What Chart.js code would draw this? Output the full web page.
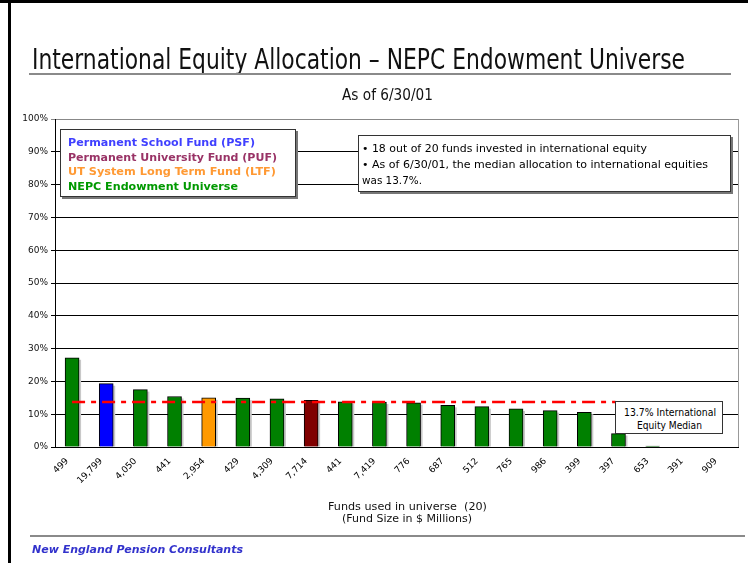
<!DOCTYPE html>
<html><head><meta charset="utf-8">
<script src="https://cdn.jsdelivr.net/npm/chart.js@4.4.1/dist/chart.umd.min.js"></script>
<style>
body{margin:0;width:748px;height:563px;position:relative;overflow:hidden;background:#fff;font-family:"DejaVu Sans",sans-serif;}
canvas{position:absolute;left:0;top:0;}
.t{position:absolute;white-space:nowrap;line-height:1;transform-origin:left top;}
.box{position:absolute;box-sizing:border-box;background:#fff;border:1px solid #333;box-shadow:2px 2px 0 #777;}
.rule{position:absolute;background:#8a8a8a;}
</style></head>
<body>
<div style="position:absolute;left:0;top:0;width:748px;height:3px;background:#000"></div>
<div style="position:absolute;left:8px;top:0;width:3px;height:563px;background:#000"></div>
<canvas id="c" width="748" height="563"></canvas>

<div class="t" data-x="32" data-b="69.3" data-fs="29" data-w="653" style="color:#111">International Equity Allocation – NEPC Endowment Universe</div>
<div class="rule" style="left:29px;top:73px;width:702px;height:2px"></div>
<div class="t" data-x="342" data-b="100.5" data-fs="16" data-w="91" style="color:#111">As of 6/30/01</div>

<div class="box" style="left:60px;top:129px;width:236px;height:68px"></div>
<div class="t" data-x="68" data-b="146.5" data-fs="11" data-w="187" style="font-weight:bold;color:#4040ff">Permanent School Fund (PSF)</div>
<div class="t" data-x="68" data-b="161" data-fs="11" data-w="209" style="font-weight:bold;color:#993366">Permanent University Fund (PUF)</div>
<div class="t" data-x="68" data-b="175.5" data-fs="11" data-w="208" style="font-weight:bold;color:#ff9933">UT System Long Term Fund (LTF)</div>
<div class="t" data-x="68" data-b="190" data-fs="11" data-w="170" style="font-weight:bold;color:#009900">NEPC Endowment Universe</div>

<div class="box" style="left:358px;top:135px;width:373px;height:57px"></div>
<div class="t" data-x="362" data-b="152.3" data-fs="11" data-w="285">• 18 out of 20 funds invested in international equity</div>
<div class="t" data-x="362" data-b="168" data-fs="11" data-w="346">• As of 6/30/01, the median allocation to international equities</div>
<div class="t" data-x="362" data-b="184" data-fs="11" data-w="60">was 13.7%.</div>

<div class="box" id="medBox" style="width:108px;height:33px;box-shadow:none">
  <div class="t" data-x="8" data-b="14.5" data-fs="10" data-w="92">13.7% International</div>
  <div class="t" data-x="21" data-b="27" data-fs="10" data-w="65">Equity Median</div>
</div>

<div class="t" data-x="328" data-b="510" data-fs="11" data-w="159" style="color:#111">Funds used in universe&nbsp; (20)</div>
<div class="t" data-x="342" data-b="522" data-fs="11" data-w="130" style="color:#111">(Fund Size in $ Millions)</div>

<div class="rule" style="left:30px;top:535px;width:715px;height:2px"></div>
<div class="t" data-x="32" data-b="553" data-fs="11" data-w="211" style="font-weight:bold;font-style:italic;color:#3333cc">New England Pension Consultants</div>

<script>
// ---- data ----
const categories = ['499','19,799','4,050','441','2,954','429','4,309','7,714','441','7,419','776','687','512','765','986','399','397','653','391','909'];
const allocation = [27.2,19.3,17.5,15.4,15.0,14.9,14.7,14.2,13.8,13.7,13.5,12.7,12.3,11.6,11.1,10.6,4.1,0.3,0,0];
const fundGroup = ['NEPC','PSF','NEPC','NEPC','LTF','NEPC','NEPC','PUF','NEPC','NEPC','NEPC','NEPC','NEPC','NEPC','NEPC','NEPC','NEPC','NEPC','NEPC','NEPC'];
const yTickValues = [0,10,20,30,40,50,60,70,80,90,100];
const medianAllocation = 13.7;
const medianEndIndex = 16;

const groupColors = {NEPC:'#008000', PSF:'#0000ff', LTF:'#ff9900', PUF:'#800000'};

// ---- text fitting ----
function fitTexts(){
  document.querySelectorAll('.t').forEach(el=>{
    const fs = parseFloat(el.dataset.fs);
    el.style.fontSize = fs + 'px';
    el.style.left = el.dataset.x + 'px';
    el.style.top = (parseFloat(el.dataset.b) - 0.846*fs) + 'px';
    el.style.transform = 'none';
    const w = el.getBoundingClientRect().width;
    el.style.transform = 'scaleX(' + (parseFloat(el.dataset.w)/w) + ')';
  });
}
fitTexts();
if (document.fonts && document.fonts.ready) document.fonts.ready.then(fitTexts);

const shadowPlugin = {
  id:'shadow',
  beforeDatasetsDraw(chart){
    const ctx = chart.ctx;
    const meta = chart.getDatasetMeta(0);
    ctx.save();
    ctx.fillStyle = '#c8c8c8';
    meta.data.forEach(bar=>{
      const p = bar.getProps(['x','y','base','width'], true);
      if (p.base - p.y > 1) ctx.fillRect(p.x - p.width/2 + 2, p.y + 2, p.width, p.base - p.y - 2);
    });
    ctx.restore();
  }
};

const medianPlugin = {
  id:'median',
  afterDatasetsDraw(chart){
    const ctx = chart.ctx, xs = chart.scales.x, ys = chart.scales.y;
    const y = ys.getPixelForValue(medianAllocation);
    const x0 = xs.getPixelForValue(0);
    const x1 = xs.getPixelForValue(medianEndIndex) - 3;
    ctx.save();
    ctx.strokeStyle = '#ff0000';
    ctx.lineWidth = 2.5;
    ctx.setLineDash([13,6,5,6]);
    ctx.beginPath(); ctx.moveTo(x0, y); ctx.lineTo(x1, y); ctx.stroke();
    ctx.restore();
    // right frame
    const a = chart.chartArea;
    ctx.save();
    ctx.strokeStyle = '#999'; ctx.lineWidth = 1;
    ctx.beginPath(); ctx.moveTo(Math.round(a.right)+0.5, a.top); ctx.lineTo(Math.round(a.right)+0.5, a.bottom); ctx.stroke();
    ctx.restore();
    const box = document.getElementById('medBox');
    box.style.left = (x1) + 'px';
    box.style.top = (y - 1) + 'px';
  }
};

new Chart(document.getElementById('c'), {
  type:'bar',
  data:{
    labels:categories,
    datasets:[{
      data:allocation,
      backgroundColor:fundGroup.map(g=>groupColors[g]),
      borderColor:'#000',
      borderWidth:1,
      barThickness:14
    }]
  },
  options:{
    responsive:false,
    animation:false,
    devicePixelRatio:1,
    layout:{padding:{left:0,right:10,top:119,bottom:66}},
    plugins:{legend:{display:false}, tooltip:{enabled:false}},
    scales:{
      x:{
        grid:{display:false},
        border:{color:'#000', width:1},
        ticks:{minRotation:45, maxRotation:45, autoSkip:false, padding:1, labelOffset:-5, color:'#000', font:{family:'DejaVu Sans', size:9}},
        afterFit(s){ s.height = 50; }
      },
      y:{
        min:0, max:100,
        afterBuildTicks(s){ s.ticks = yTickValues.map(v=>({value:v})); },
        ticks:{callback:v=>v+'%', padding:3, color:'#111', font:{family:'DejaVu Sans', size:9}},
        grid:{color:c=>(c.tick && c.tick.value===100) ? '#888' : '#000', tickLength:4, lineWidth:1},
        border:{color:'#000', width:1},
        afterFit(s){ s.width = 55; }
      }
    }
  },
  plugins:[shadowPlugin, medianPlugin]
});
</script>
</body></html>
